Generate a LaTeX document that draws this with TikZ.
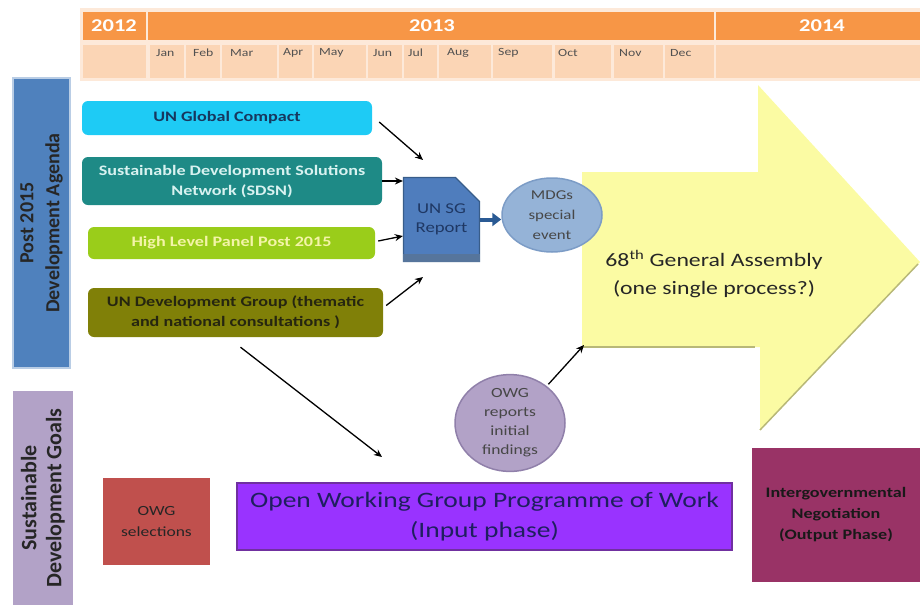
\documentclass[tikz,border=0pt]{standalone}
\usepackage{fontspec}
\setmainfont{Carlito}
\newfontfamily\wfont{Carlito}[FakeStretch=1.25]
\usetikzlibrary{arrows.meta,shapes.misc,shapes.geometric}
\definecolor{hdrorange}{HTML}{F79646}
\definecolor{hdrlight}{HTML}{FBD5B5}
\definecolor{hdrpale}{HTML}{FDE9D9}
\definecolor{barblue}{HTML}{4F81BD}
\definecolor{barblueedge}{HTML}{B9CDE5}
\definecolor{barpurple}{HTML}{B2A2C7}
\definecolor{gccyan}{HTML}{1ECBF5}
\definecolor{gctext}{HTML}{17375E}
\definecolor{sdteal}{HTML}{1E8A86}
\definecolor{sdtext}{HTML}{D8F2F0}
\definecolor{hllime}{HTML}{9ACD1A}
\definecolor{hltext}{HTML}{F4F4A8}
\definecolor{udolive}{HTML}{808008}
\definecolor{udtext}{HTML}{262610}
\definecolor{sgblue}{HTML}{4F7DBD}
\definecolor{sgedge}{HTML}{385D8A}
\definecolor{sgtext}{HTML}{1F3864}
\definecolor{sgarrow}{HTML}{2A5A94}
\definecolor{mdgblue}{HTML}{95B3D7}
\definecolor{mdgedge}{HTML}{7C9CC6}
\definecolor{yellowbg}{HTML}{FBFBA3}
\definecolor{yellowedge}{HTML}{B8B878}
\definecolor{owglav}{HTML}{B2A2C7}
\definecolor{owgedge}{HTML}{9080AA}
\definecolor{selred}{HTML}{C0504D}
\definecolor{progpurple}{HTML}{9933FF}
\definecolor{progedge}{HTML}{7030A0}
\definecolor{progtext}{HTML}{1F1F5F}
\definecolor{igmaroon}{HTML}{993366}
\definecolor{darktxt}{HTML}{262626}
\begin{document}
\begin{tikzpicture}[x=1pt,y=-1pt,
  yeartxt/.style={text=white,font=\wfont\bfseries\fontsize{18}{18}\selectfont,inner sep=0pt},
  monthtxt/.style={text=darktxt!80,font=\wfont\fontsize{11}{11}\selectfont,inner sep=0pt,anchor=west},
  srcbox/.style={rounded corners=6pt,inner sep=2pt,align=center,font=\wfont\bfseries\fontsize{14.5}{20}\selectfont},
  sqbox/.style={inner sep=2pt,align=center},
  arr/.style={-{Stealth[length=8pt,width=7pt]},line width=1.3pt,black},
]
\useasboundingbox (0,0) rectangle (920,605);
% header
\fill[hdrpale] (80,8) rectangle (920,81);
\fill[hdrorange] (83,12) rectangle (146,40);
\fill[hdrorange] (148,12) rectangle (714,40);
\fill[hdrorange] (716,12) rectangle (920,40);
\foreach \a/\b in {83/146,150/184,186/220,222/277,279/312,314/366,368/402,404/437,439/491,493/552,555/611,614/663,665/714,716/920}
  {\fill[hdrlight] (\a,45) rectangle (\b,78);}
\node[yeartxt] (y2012) at (114,26) {2012};
\node[yeartxt] (y2013) at (432,26) {2013};
\node[yeartxt] (y2014) at (822,26) {2014};
\node[monthtxt] (mjan) at (156,53) {Jan};
\node[monthtxt] (mfeb) at (193,53) {Feb};
\node[monthtxt] (mmar) at (230,53) {Mar};
\node[monthtxt] (mapr) at (283,53) {Apr};
\node[monthtxt] (mmay) at (319,53) {May};
\node[monthtxt] (mjun) at (373,53) {Jun};
\node[monthtxt] (mjul) at (408,53) {Jul};
\node[monthtxt] (maug) at (447,53) {Aug};
\node[monthtxt] (msep) at (498,53) {Sep};
\node[monthtxt] (moct) at (558,53) {Oct};
\node[monthtxt] (mnov) at (619,53) {Nov};
\node[monthtxt] (mdec) at (670,53) {Dec};
% left bars
\node[draw=barblueedge,line width=1.5pt,fill=barblue,rotate=90,minimum width=290pt,minimum height=57pt,
  align=center,text=black!85,font=\bfseries\fontsize{20}{26}\selectfont,inner sep=0pt] (post) at (41.5,223)
  {Post 2015\\Development Agenda};
\node[fill=barpurple,rotate=90,minimum width=214pt,minimum height=60pt,
  align=center,text=darktxt,font=\bfseries\fontsize{22}{25}\selectfont,inner sep=0pt] (sdg) at (43,498)
  {Sustainable\\Development Goals};
% yellow arrow
\fill[yellowbg] (582,172) -- (758,172) -- (758,85) -- (920,262) -- (760,430) -- (760,347) -- (582,347) -- cycle;
\draw[yellowedge,line width=2pt] (582,347) -- (755,347);
\draw[yellowedge,line width=1.5pt] (760,430) -- (918,264);
\coordinate (yacorner) at (584,345);
\node[text=darktxt,align=center,font=\wfont\fontsize{19}{28}\selectfont] (ga) at (714,274)
  {68\textsuperscript{th} General Assembly\\(one single process?)};
% source boxes
\node[srcbox,fill=gccyan,text=gctext,minimum width=290pt,minimum height=34pt] (gc) at (227,118) {UN Global Compact};
\node[srcbox,fill=sdteal,text=sdtext,minimum width=300pt,minimum height=48pt] (sdsn) at (232,181)
  {Sustainable Development Solutions\\Network (SDSN)};
\node[srcbox,fill=hllime,text=hltext,minimum width=287pt,minimum height=32pt] (hlp) at (231.5,243) {High Level Panel Post 2015};
\node[srcbox,fill=udolive,text=udtext,minimum width=295pt,minimum height=49pt] (undg) at (235.5,312.5)
  {UN Development Group (thematic\\and national consultations )};
% SG report
\node[chamfered rectangle,chamfered rectangle corners=north east,chamfered rectangle xsep=12pt,chamfered rectangle ysep=12pt,
  draw=sgedge,line width=1.2pt,fill=sgblue,minimum width=76pt,minimum height=84pt,inner sep=0pt,
  text=sgtext,align=center,font=\wfont\fontsize{15}{19}\selectfont] (sg) at (441.5,219.5) {UN SG\\Report};
\fill[sgedge!85] ([yshift=8pt]sg.south west) rectangle (sg.south east);
% MDGs ellipse
\node[ellipse,draw=mdgedge,line width=1.5pt,fill=mdgblue,minimum width=100pt,minimum height=74pt,inner sep=0pt,
  text=darktxt!85,align=center,font=\wfont\fontsize{13.5}{20}\selectfont] (mdg) at (552,215) {MDGs\\special\\event};
% OWG reports ellipse
\node[ellipse,draw=owgedge,line width=1.5pt,fill=owglav,minimum width=110pt,minimum height=90pt,inner sep=0pt,
  text=darktxt!85,align=center,font=\wfont\fontsize{14}{19}\selectfont] (owgr) at (510,423) {OWG\\reports\\initial\\findings};
% bottom boxes
\node[sqbox,fill=selred,text=black!85,minimum width=107pt,minimum height=87pt,font=\wfont\fontsize{14}{21}\selectfont] (sel) at (156.5,521.5) {OWG\\selections};
\node[sqbox,draw=progedge,line width=1.2pt,fill=progpurple,text=progtext,minimum width=495pt,minimum height=67pt,font=\wfont\fontsize{22}{30}\selectfont] (prog) at (484.5,516.5)
  {Open Working Group Programme of Work\\(Input phase)};
\node[sqbox,fill=igmaroon,text=black!90,minimum width=168pt,minimum height=134pt,font=\wfont\bfseries\fontsize{14.5}{21}\selectfont] (igov) at (836,515)
  {Intergovernmental\\Negotiation\\(Output Phase)};
% connectors
\coordinate (a1e) at (423,160);
\coordinate (a3e) at (sg.west |- 0,236);
\coordinate (a4e) at (423,277);
\coordinate (a5e) at (382,457);
\draw[arr] (gc.east) ++(7,4) -- (a1e);
\draw[arr] (sdsn.east) -- (sdsn.east -| sg.west);
\draw[arr] (hlp.east) ++(3,-2) -- (a3e);
\draw[arr] (undg.east) ++(3,-7) -- (a4e);
\draw[arr] (undg.south) ++(5,10) -- (a5e);
\draw[arr] (owgr.north east) ++(-1,-4) -- (yacorner);
\draw[line width=4pt,sgarrow,-{Triangle[length=9pt,width=13pt]}] (sg.east) -- (sg.east -| mdg.west);
\end{tikzpicture}
\end{document}
